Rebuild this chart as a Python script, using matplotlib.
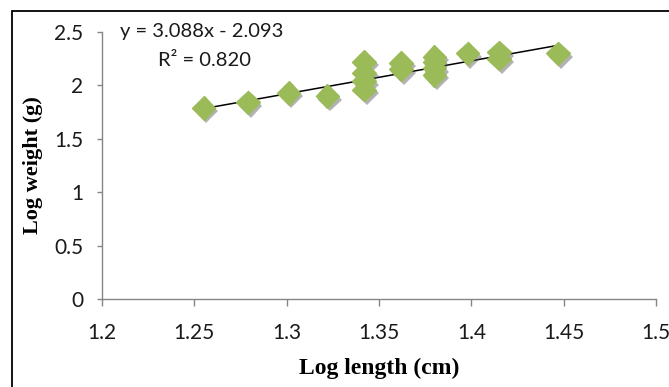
import matplotlib
matplotlib.use('Agg')
import matplotlib.pyplot as plt
import matplotlib.patheffects as pe
from matplotlib.patches import Rectangle

# Data
log_length = [1.255, 1.279, 1.301, 1.322,
              1.342, 1.342, 1.342, 1.342,
              1.362, 1.362,
              1.380, 1.380, 1.380, 1.380,
              1.398,
              1.415, 1.415,
              1.447]
log_weight = [1.79, 1.84, 1.93, 1.90,
              2.22, 2.12, 2.04, 1.96,
              2.21, 2.15,
              2.27, 2.22, 2.16, 2.10,
              2.30,
              2.31, 2.25,
              2.30]

slope = 3.088
intercept = -2.093
r_squared = 0.820

x_ticks = [1.2, 1.25, 1.3, 1.35, 1.4, 1.45, 1.5]
x_tick_labels = ['1.2', '1.25', '1.3', '1.35', '1.4', '1.45', '1.5']
y_ticks = [0, 0.5, 1, 1.5, 2, 2.5]
y_tick_labels = ['0', '0.5', '1', '1.5', '2', '2.5']

W, H = 669, 387
fig = plt.figure(figsize=(W / 100, H / 100), dpi=100)

# Outer frame (left and top visible, runs past right and bottom)
fig.patches.append(Rectangle((12 / W, -0.1), 1.2, 1 - 11 / H + 0.1,
                             transform=fig.transFigure, fill=False,
                             edgecolor='black', linewidth=1.3))

ax = fig.add_axes([102 / W, (H - 299) / H, (656 - 102) / W, (299 - 32) / H])

# Trendline over the data range
x_min, x_max = min(log_length), max(log_length)
ax.plot([x_min, x_max], [slope * x_min + intercept, slope * x_max + intercept],
        color='black', linewidth=1.1, zorder=2)

# Diamond markers with a soft drop shadow
ax.plot(log_length, log_weight, linestyle='none', marker='D', markersize=12,
        markerfacecolor='#9BBB59', markeredgecolor='#9BBB59', zorder=3,
        path_effects=[pe.SimplePatchShadow(offset=(2, -2.5), shadow_rgbFace='#555555', alpha=0.45),
                      pe.Normal()])

ax.set_xlim(1.2, 1.5)
ax.set_ylim(0, 2.5)
ax.set_xticks(x_ticks)
ax.set_xticklabels(x_tick_labels)
ax.set_yticks(y_ticks)
ax.set_yticklabels(y_tick_labels)

for side in ['top', 'right']:
    ax.spines[side].set_visible(False)
for side in ['left', 'bottom']:
    ax.spines[side].set_color('#868686')
    ax.spines[side].set_linewidth(1.0)

ax.tick_params(axis='x', direction='out', length=5, width=1, color='#868686',
               pad=12, labelsize=15, labelcolor='#1a1a1a')
ax.tick_params(axis='y', direction='out', length=3.6, width=1, color='#868686',
               pad=10, labelsize=15, labelcolor='#1a1a1a')
for lbl in ax.get_xticklabels() + ax.get_yticklabels():
    lbl.set_fontfamily('Lato')

ax.set_xlabel('Log length (cm)', fontfamily='Liberation Serif', fontweight='bold',
              fontsize=17, labelpad=11)
ax.set_ylabel('Log weight (g)', fontfamily='Liberation Serif', fontweight='bold',
              fontsize=16, labelpad=8)

# Trendline equation
fig.text(202 / W, 1 - 32 / H, f'y = {slope:.3f}x - {abs(intercept):.3f}',
         fontfamily='Lato', fontsize=14.5, color='#1a1a1a', ha='center', va='center')
fig.text(205 / W, 1 - 61 / H, f'R² = {r_squared:.3f}',
         fontfamily='Lato', fontsize=14.5, color='#1a1a1a', ha='center', va='center')

fig.savefig('out.png', dpi=100, facecolor='white')
